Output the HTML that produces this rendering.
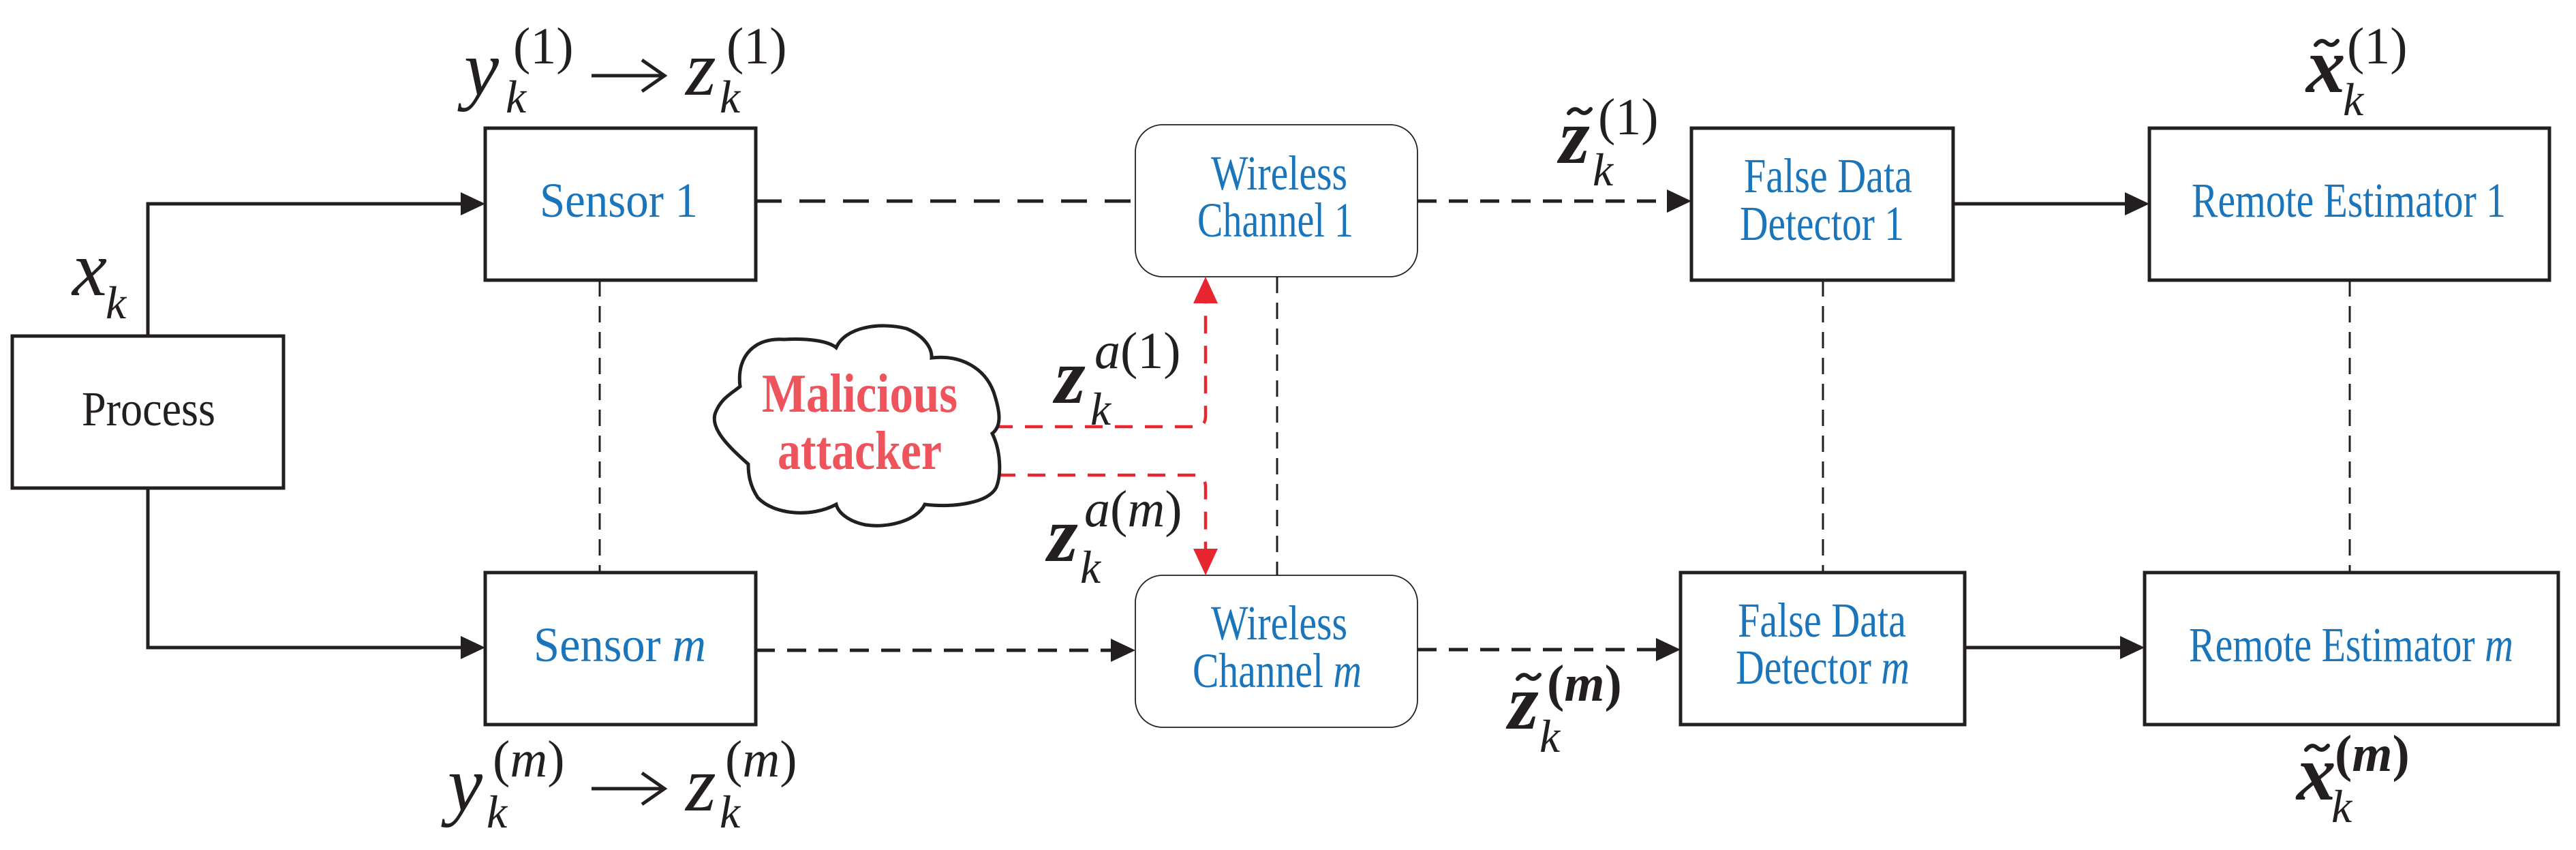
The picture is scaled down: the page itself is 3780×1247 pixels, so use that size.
<!DOCTYPE html>
<html><head><meta charset="utf-8"><style>
html,body{margin:0;padding:0;background:#fff}
svg{display:block}
.b{font-family:"Liberation Serif","DejaVu Serif",serif;fill:#1a75bb;font-size:72px}
.m{font-family:"Liberation Serif","DejaVu Serif",serif;font-style:italic;fill:#231f20}
</style></head><body>
<svg width="3780" height="1247" viewBox="0 0 3780 1247" xmlns="http://www.w3.org/2000/svg">
<g fill="none" stroke="#231f20" stroke-width="5">
<rect x="18" y="493" width="398" height="223"/>
<rect x="712" y="188" width="397" height="223"/>
<rect x="712" y="840" width="397" height="223"/>
<rect x="2482" y="188" width="384" height="223"/>
<rect x="2466" y="840" width="417" height="223"/>
<rect x="3154" y="188" width="587" height="223"/>
<rect x="3147" y="840" width="607" height="223"/>
</g>
<g fill="none" stroke="#231f20" stroke-width="1.8">
<rect x="1666" y="183" width="414" height="223" rx="40"/>
<rect x="1666" y="844" width="414" height="223" rx="40"/>
</g>
<g fill="none" stroke="#231f20" stroke-width="5">
<polyline points="217,493 217,299 680,299"/>
<polyline points="217,716 217,950 680,950"/>
<line x1="2866" y1="299" x2="3122" y2="299"/>
<line x1="2883" y1="950" x2="3115" y2="950"/>
</g>
<g fill="#231f20">
<polygon points="712,299 676,282 676,316"/>
<polygon points="712,950 676,933 676,967"/>
<polygon points="3154,299 3118,282 3118,316"/>
<polygon points="3147,950 3111,933 3111,967"/>
<polygon points="2482,295 2446,278 2446,312"/>
<polygon points="2466,953 2430,936 2430,970"/>
<polygon points="1666,954 1630,937 1630,971"/>
</g>
<g fill="none" stroke="#231f20">
<line x1="1109" y1="295" x2="1666" y2="295" stroke-width="5" stroke-dasharray="38,26"/>
<line x1="1109" y1="954" x2="1632" y2="954" stroke-width="5" stroke-dasharray="28,18"/>
<line x1="2080" y1="295" x2="2448" y2="295" stroke-width="5" stroke-dasharray="28,18"/>
<line x1="2080" y1="953" x2="2432" y2="953" stroke-width="5" stroke-dasharray="28,18"/>
<line x1="880" y1="411" x2="880" y2="840" stroke-width="3" stroke-dasharray="24,14"/>
<line x1="1874" y1="406" x2="1874" y2="844" stroke-width="3" stroke-dasharray="24,14"/>
<line x1="2675" y1="411" x2="2675" y2="840" stroke-width="3" stroke-dasharray="24,14"/>
<line x1="3448" y1="411" x2="3448" y2="840" stroke-width="3" stroke-dasharray="24,14"/>
</g>
<g fill="none" stroke="#e8262f" stroke-width="4.5" stroke-dasharray="26,18">
<path d="M1460,626 L1755,626 Q1769,626 1769,610 L1769,445"/>
<path d="M1464,697 L1752,697 Q1769,697 1769,715 L1769,808"/>
</g>
<g fill="#e8262f">
<polygon points="1769,406 1751,445 1787,445"/>
<polygon points="1769,844 1751,805 1787,805"/>
</g>
<path d="M1086,567 C1080,520 1110,495 1150,498 C1185,496 1215,500 1227,510 C1240,480 1290,472 1330,482 C1355,492 1368,510 1367,525 C1410,520 1445,540 1458,575 C1468,605 1470,625 1456,636 C1468,660 1470,695 1462,715 C1450,738 1400,745 1357,740 C1345,765 1300,775 1270,770 C1245,765 1230,752 1227,740 C1190,760 1135,755 1112,730 C1100,712 1098,695 1098,681 C1075,660 1040,630 1050,605 C1058,585 1072,578 1086,567 Z" fill="#fff" stroke="#231f20" stroke-width="5"/>
<g font-family="Liberation Serif,DejaVu Serif,serif" font-weight="bold" font-size="80" fill="#ef535c">
<text x="1118" y="604" textLength="287" lengthAdjust="spacingAndGlyphs">Malicious</text>
<text x="1141" y="688" textLength="241" lengthAdjust="spacingAndGlyphs">attacker</text>
</g>
<text x="120" y="624" class="b" style="fill:#231f20" textLength="196" lengthAdjust="spacingAndGlyphs">Process</text>
<text x="792" y="318" class="b" font-size="76" textLength="232" lengthAdjust="spacingAndGlyphs">Sensor 1</text>
<text x="783" y="970" class="b" font-size="76" textLength="253" lengthAdjust="spacingAndGlyphs">Sensor <tspan font-style="italic">m</tspan></text>
<text x="1777" y="278" class="b" textLength="200" lengthAdjust="spacingAndGlyphs">Wireless</text>
<text x="1757" y="347" class="b" textLength="229" lengthAdjust="spacingAndGlyphs">Channel 1</text>
<text x="1777" y="938" class="b" textLength="200" lengthAdjust="spacingAndGlyphs">Wireless</text>
<text x="1750" y="1008" class="b" textLength="248" lengthAdjust="spacingAndGlyphs">Channel <tspan font-style="italic">m</tspan></text>
<text x="2559" y="282" class="b" textLength="247" lengthAdjust="spacingAndGlyphs">False Data</text>
<text x="2553" y="352" class="b" textLength="241" lengthAdjust="spacingAndGlyphs">Detector 1</text>
<text x="2550" y="934" class="b" textLength="247" lengthAdjust="spacingAndGlyphs">False Data</text>
<text x="2547" y="1003" class="b" textLength="255" lengthAdjust="spacingAndGlyphs">Detector <tspan font-style="italic">m</tspan></text>
<text x="3216" y="318" class="b" textLength="461" lengthAdjust="spacingAndGlyphs">Remote Estimator 1</text>
<text x="3212" y="970" class="b" textLength="476" lengthAdjust="spacingAndGlyphs">Remote Estimator <tspan font-style="italic">m</tspan></text>
<g class="m">
<text x="681" y="139" font-size="115">y</text>
<text x="753" y="93" font-size="76" font-style="normal">(1)</text>
<text x="742" y="165" font-size="68">k</text>
<text x="1006" y="139" font-size="115">z</text>
<text x="1066" y="93" font-size="76" font-style="normal">(1)</text>
<text x="1056" y="165" font-size="68">k</text>
<text x="657" y="1189" font-size="115">y</text>
<text x="723" y="1139" font-size="76"><tspan font-style="normal">(</tspan>m<tspan font-style="normal">)</tspan></text>
<text x="714" y="1214" font-size="68">k</text>
<text x="1006" y="1189" font-size="115">z</text>
<text x="1064" y="1139" font-size="76"><tspan font-style="normal">(</tspan>m<tspan font-style="normal">)</tspan></text>
<text x="1056" y="1214" font-size="68">k</text>
<text x="106" y="433" font-size="115">x</text>
<text x="155" y="467" font-size="68">k</text>
<text x="1548" y="591" font-size="115" font-weight="bold">z</text>
<text x="1606" y="540" font-size="76">a<tspan font-style="normal">(1)</tspan></text>
<text x="1600" y="623" font-size="68">k</text>
<text x="1537" y="823" font-size="115" font-weight="bold">z</text>
<text x="1591" y="772" font-size="76">a<tspan font-style="normal">(</tspan>m<tspan font-style="normal">)</tspan></text>
<text x="1585" y="855" font-size="68">k</text>
<text x="2288" y="239" font-size="115" font-weight="bold">z</text>
<text x="2345" y="197" font-size="76" font-style="normal">(1)</text>
<text x="2337" y="272" font-size="68">k</text>
<text x="3384" y="135" font-size="115" font-weight="bold">x</text>
<text x="3444" y="93" font-size="76" font-style="normal">(1)</text>
<text x="3438" y="169" font-size="68">k</text>
<text x="2213" y="1069" font-size="115" font-weight="bold">z</text>
<text x="2270" y="1028" font-size="76" font-weight="bold"><tspan font-style="normal">(</tspan>m<tspan font-style="normal">)</tspan></text>
<text x="2259" y="1103" font-size="68">k</text>
<text x="3370" y="1173" font-size="115" font-weight="bold">x</text>
<text x="3426" y="1131" font-size="76" font-weight="bold"><tspan font-style="normal">(</tspan>m<tspan font-style="normal">)</tspan></text>
<text x="3421" y="1206" font-size="68">k</text>
</g>
<g fill="none" stroke="#231f20" stroke-width="6" stroke-linecap="round">
<path d="M2302,166 q8,-10 16,-3 t16,-3"/>
<path d="M3398,66 q8,-10 16,-3 t16,-3"/>
<path d="M2227,996 q8,-10 16,-3 t16,-3"/>
<path d="M3384,1100 q8,-10 16,-3 t16,-3"/>
</g>
<g fill="none" stroke="#231f20" stroke-width="5">
<line x1="868" y1="111" x2="972" y2="111"/>
<polyline points="942,88 975,111 942,134"/>
<line x1="868" y1="1157" x2="972" y2="1157"/>
<polyline points="942,1134 975,1157 942,1180"/>
</g>
</svg>
</body></html>
